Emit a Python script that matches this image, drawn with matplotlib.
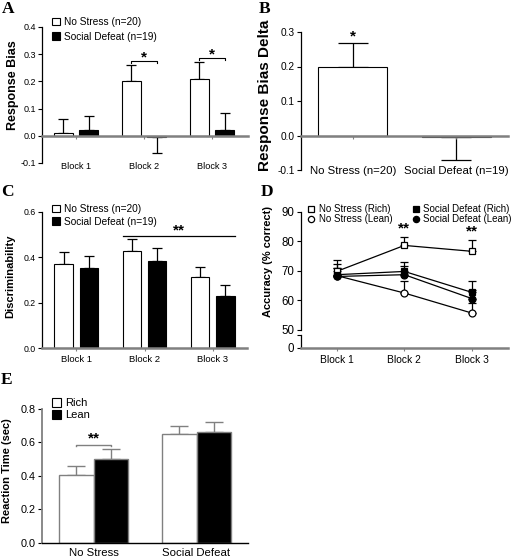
import matplotlib
matplotlib.use('Agg')
import matplotlib.pyplot as plt
import numpy as np
from matplotlib.patches import Patch
from matplotlib.lines import Line2D

plt.rcParams['font.family'] = ['Liberation Sans', 'DejaVu Sans']

# ---------------- data ----------------
blocks = ['Block 1', 'Block 2', 'Block 3']
groups = ['No Stress (n=20)', 'Social Defeat (n=19)']

bias_ns = [0.012, 0.200, 0.210]
bias_ns_err = [0.050, 0.062, 0.062]
bias_sd = [0.022, -0.005, 0.020]
bias_sd_err = [0.050, 0.060, 0.063]

delta_vals = [0.198, -0.005]
delta_err = [0.070, 0.067]

disc_ns = [0.370, 0.425, 0.312]
disc_ns_err = [0.052, 0.053, 0.046]
disc_sd = [0.350, 0.385, 0.230]
disc_sd_err = [0.055, 0.056, 0.047]

acc_labels = ['No Stress (Rich)', 'No Stress (Lean)', 'Social Defeat (Rich)', 'Social Defeat (Lean)']
acc_ns_rich = [69.8, 78.6, 76.6]
acc_ns_rich_err = [3.7, 3.0, 4.0]
acc_ns_lean = [68.4, 62.5, 55.7]
acc_ns_lean_err = [2.5, 3.9, 3.5]
acc_sd_rich = [68.7, 69.8, 62.7]
acc_sd_rich_err = [3.7, 3.1, 3.9]
acc_sd_lean = [68.1, 68.7, 60.6]
acc_sd_lean_err = [3.0, 3.0, 3.0]

rt_groups = ['No Stress', 'Social Defeat']
rt_labels = ['Rich', 'Lean']
rt_rich = [0.405, 0.650]
rt_rich_err = [0.055, 0.050]
rt_lean = [0.500, 0.665]
rt_lean_err = [0.060, 0.060]

# ---------------- layout ----------------
W, H = 519, 559
fig = plt.figure(figsize=(W / 100, H / 100), dpi=100)

GREY = '#808080'
LEG_FS = 7.3


def box(l, t, r, b):
    return [l / W, 1 - b / H, (r - l) / W, (b - t) / H]


def directional(vals, errs):
    lo = [e if v < 0 else 0 for v, e in zip(vals, errs)]
    hi = [e if v >= 0 else 0 for v, e in zip(vals, errs)]
    return [lo, hi]


def style(ax, xfs=6.6, yfs=6.5, bottom_color=GREY, bottom_lw=1.8, left_color='black'):
    for s in ['top', 'right']:
        ax.spines[s].set_visible(False)
    ax.spines['left'].set_color(left_color)
    ax.spines['left'].set_linewidth(0.9)
    ax.spines['bottom'].set_color(bottom_color)
    ax.spines['bottom'].set_linewidth(bottom_lw)
    ax.tick_params(axis='y', length=3, width=0.8, labelsize=yfs, pad=1.5)
    ax.tick_params(axis='x', length=2, width=0.8, labelsize=xfs, color=GREY)


def letter(x, y, s):
    fig.text(x / W, 1 - y / H, s, ha='left', va='top', fontsize=12.5,
             fontweight='bold', family=['Liberation Serif', 'DejaVu Serif'])


def fmt1(v):
    return '%.1f' % v


x3 = np.arange(3)
bw = 0.27
off = 0.185

# ---------------- Panel A ----------------
axA = fig.add_axes(box(42, 27, 248, 163))
axA.bar(x3 - off, bias_ns, bw, color='white', edgecolor='black', lw=0.8, zorder=2)
axA.bar(x3 + off, bias_sd, bw, color='black', edgecolor='black', lw=0.8, zorder=2)
axA.errorbar(x3 - off, bias_ns, yerr=directional(bias_ns, bias_ns_err), fmt='none',
             ecolor='black', elinewidth=0.9, capsize=3.6, capthick=0.9, zorder=1)
axA.errorbar(x3 + off, bias_sd, yerr=directional(bias_sd, bias_sd_err), fmt='none',
             ecolor='black', elinewidth=0.9, capsize=3.6, capthick=0.9, zorder=1)
axA.set_xlim(-0.5, 2.53)
axA.set_ylim(-0.1, 0.4)
yt = [-0.1, 0.0, 0.1, 0.2, 0.3, 0.4]
axA.set_yticks(yt)
axA.set_yticklabels([fmt1(v) for v in yt])
axA.set_xticks(x3)
axA.set_xticklabels(blocks)
style(axA)
axA.spines['bottom'].set_position(('data', 0))
axA.tick_params(axis='x', pad=17)
axA.set_ylabel('Response Bias', fontsize=9, fontweight='bold', va='center')
axA.yaxis.set_label_coords(-0.14, 0.57)
for bi, yb in [(1, 0.275), (2, 0.287)]:
    axA.plot([bi - off, bi - off, bi + off, bi + off], [yb - 0.008, yb, yb, yb - 0.008],
             color='black', lw=0.8)
    axA.text(bi, yb - 0.012, '*', ha='center', va='bottom', fontsize=11, fontweight='bold')
axA.legend(handles=[Patch(facecolor='white', edgecolor='black', lw=0.8, label=groups[0]),
                    Patch(facecolor='black', edgecolor='black', lw=0.8, label=groups[1])],
           loc='upper left', bbox_to_anchor=(52 / W, 1 - 17 / H), bbox_transform=fig.transFigure,
           frameon=False, fontsize=LEG_FS, handlelength=0.8, handleheight=0.8,
           handletextpad=0.4, labelspacing=0.45, borderpad=0, borderaxespad=0)
letter(2, 1, 'A')

# ---------------- Panel B ----------------
axB = fig.add_axes(box(301, 32, 508, 170))
xb = np.arange(2)
axB.bar(xb, delta_vals, 0.67, color=['white', 'black'], edgecolor='black', lw=0.8, zorder=2)
axB.errorbar(xb, delta_vals, yerr=directional(delta_vals, delta_err), fmt='none',
             ecolor='black', elinewidth=0.9, capsize=11, capthick=0.9, zorder=1)
axB.set_xlim(-0.5, 1.5)
axB.set_ylim(-0.1, 0.3)
ytb = [-0.1, 0.0, 0.1, 0.2, 0.3]
axB.set_yticks(ytb)
axB.set_yticklabels([fmt1(v) for v in ytb])
axB.set_xticks(xb)
axB.set_xticklabels(groups)
style(axB, xfs=8.2, yfs=7.3)
axB.spines['bottom'].set_position(('data', 0))
axB.tick_params(axis='x', pad=20)
axB.set_ylabel('Response Bias Delta', fontsize=11, fontweight='bold', va='center')
axB.yaxis.set_label_coords(-0.175, 0.54)
axB.text(0, 0.268, '*', ha='center', va='bottom', fontsize=11, fontweight='bold')
letter(259, 1, 'B')

# ---------------- Panel C ----------------
axC = fig.add_axes(box(42, 211.7, 247, 348))
axC.bar(x3 - off, disc_ns, bw, color='white', edgecolor='black', lw=0.8, zorder=2)
axC.bar(x3 + off, disc_sd, bw, color='black', edgecolor='black', lw=0.8, zorder=2)
axC.errorbar(x3 - off, disc_ns, yerr=[[0] * 3, disc_ns_err], fmt='none',
             ecolor='black', elinewidth=0.9, capsize=3.4, capthick=0.9, zorder=1)
axC.errorbar(x3 + off, disc_sd, yerr=[[0] * 3, disc_sd_err], fmt='none',
             ecolor='black', elinewidth=0.9, capsize=3.4, capthick=0.9, zorder=1)
axC.set_xlim(-0.5, 2.5)
axC.set_ylim(0, 0.6)
ytc = [0.0, 0.2, 0.4, 0.6]
axC.set_yticks(ytc)
axC.set_yticklabels([fmt1(v) for v in ytc])
axC.set_xticks(x3)
axC.set_xticklabels(blocks)
style(axC, xfs=6.8, yfs=6.3)
axC.tick_params(axis='x', pad=3)
axC.set_ylabel('Discriminability', fontsize=8, fontweight='bold', va='center')
axC.yaxis.set_label_coords(-0.155, 0.53)
axC.plot([1 - off - bw / 2, 2 + off + bw / 2], [0.491, 0.491], color='black', lw=0.9)
axC.text(1.5, 0.488, '**', ha='center', va='bottom', fontsize=11, fontweight='bold')
axC.legend(handles=[Patch(facecolor='white', edgecolor='black', lw=0.8, label=groups[0]),
                    Patch(facecolor='black', edgecolor='black', lw=0.8, label=groups[1])],
           loc='upper left', bbox_to_anchor=(52 / W, 1 - 204 / H), bbox_transform=fig.transFigure,
           frameon=False, fontsize=LEG_FS, handlelength=0.8, handleheight=0.8,
           handletextpad=0.4, labelspacing=0.25, borderpad=0, borderaxespad=0)
letter(1, 184, 'C')

# ---------------- Panel D ----------------
axD = fig.add_axes(box(300.7, 211.7, 508, 330))
axD0 = fig.add_axes(box(300.7, 335, 508, 348), sharex=axD)
series = [
    (acc_ns_rich, acc_ns_rich_err, 's', 'white'),
    (acc_ns_lean, acc_ns_lean_err, 'o', 'white'),
    (acc_sd_rich, acc_sd_rich_err, 's', 'black'),
    (acc_sd_lean, acc_sd_lean_err, 'o', 'black'),
]
handles = []
for (vals, errs, mk, fc), lab in zip(series, acc_labels):
    axD.errorbar(x3, vals, yerr=[[0] * 3, errs], fmt='none', ecolor='black',
                 elinewidth=0.9, capsize=3, capthick=0.9, zorder=2)
    axD.plot(x3, vals, color='black', lw=0.9, marker=mk, markersize=5,
             markerfacecolor=fc, markeredgecolor='black', markeredgewidth=0.9, zorder=3)
    handles.append(Line2D([], [], ls='none', marker=mk, markersize=4.5,
                          markerfacecolor=fc, markeredgecolor='black', markeredgewidth=0.9, label=lab))
axD.set_xlim(-0.53, 2.53)
axD.set_ylim(50, 90)
axD.set_yticks([50, 60, 70, 80, 90])
style(axD, yfs=8.3)
axD.spines['bottom'].set_visible(False)
axD.tick_params(axis='x', which='both', bottom=False, labelbottom=False)
axD.set_ylabel('Accuracy (% correct)', fontsize=8, fontweight='bold', va='center')
axD.yaxis.set_label_coords(-0.16, 0.575)
axD.patch.set_alpha(0)
for bi in [1, 2]:
    axD.text(bi, acc_ns_rich[bi] + acc_ns_rich_err[bi] + 0.3, '**', ha='center', va='bottom',
             fontsize=11, fontweight='bold')
fig.legend(handles=handles, loc='upper left', bbox_to_anchor=(306 / W, 1 - 204 / H),
           ncol=2, frameon=False, fontsize=7, handlelength=1.0, handletextpad=0.3,
           labelspacing=0.05, columnspacing=1.9, borderpad=0, borderaxespad=0)
axD0.set_ylim(0, 5)
axD0.set_yticks([0, 5])
axD0.set_yticklabels(['0', ''])
axD0.set_xticks(x3)
axD0.set_xticklabels(blocks)
style(axD0, xfs=7.4, yfs=8.3)
axD0.tick_params(axis='x', pad=3)
axD0.patch.set_alpha(0)
letter(261, 184, 'D')

# ---------------- Panel E ----------------
axE = fig.add_axes(box(42, 409, 248, 542.7))
xe = np.arange(2)
ew = 0.335
eo = 0.1675
axE.bar(xe - eo, rt_rich, ew, color='white', edgecolor=GREY, lw=1.0, zorder=2, label=rt_labels[0])
axE.bar(xe + eo, rt_lean, ew, color='black', edgecolor=GREY, lw=1.0, zorder=2, label=rt_labels[1])
axE.errorbar(xe - eo, rt_rich, yerr=[[0, 0], rt_rich_err], fmt='none', ecolor=GREY,
             elinewidth=1.0, capsize=6.5, capthick=1.0, zorder=1)
axE.errorbar(xe + eo, rt_lean, yerr=[[0, 0], rt_lean_err], fmt='none', ecolor=GREY,
             elinewidth=1.0, capsize=6.5, capthick=1.0, zorder=1)
axE.set_xlim(-0.5, 1.5)
axE.set_ylim(0, 0.8)
yte = [0.0, 0.2, 0.4, 0.6, 0.8]
axE.set_yticks(yte)
axE.set_yticklabels([fmt1(v) for v in yte])
axE.set_xticks(xe)
axE.set_xticklabels(rt_groups)
style(axE, xfs=8.2, yfs=7.8, bottom_color='black', bottom_lw=1.0, left_color=GREY)
axE.spines['left'].set_linewidth(1.3)
axE.tick_params(axis='x', length=0, pad=4)
axE.set_ylabel('Reaction Time (sec)', fontsize=8, fontweight='bold', va='center')
axE.yaxis.set_label_coords(-0.17, 0.54)
axE.plot([-eo, -eo, eo, eo], [0.578, 0.586, 0.586, 0.578], color=GREY, lw=1.0)
axE.text(0, 0.582, '**', ha='center', va='bottom', fontsize=11, fontweight='bold')
axE.legend(handles=[Patch(facecolor='white', edgecolor='black', lw=0.8, label=rt_labels[0]),
                    Patch(facecolor='black', edgecolor='black', lw=0.8, label=rt_labels[1])],
           loc='upper left', bbox_to_anchor=(52 / W, 1 - 398 / H), bbox_transform=fig.transFigure,
           frameon=False, fontsize=8, handlelength=0.8, handleheight=0.8,
           handletextpad=0.4, labelspacing=0.2, borderpad=0, borderaxespad=0)
letter(1, 372, 'E')

fig.savefig('out.png', dpi=100)
